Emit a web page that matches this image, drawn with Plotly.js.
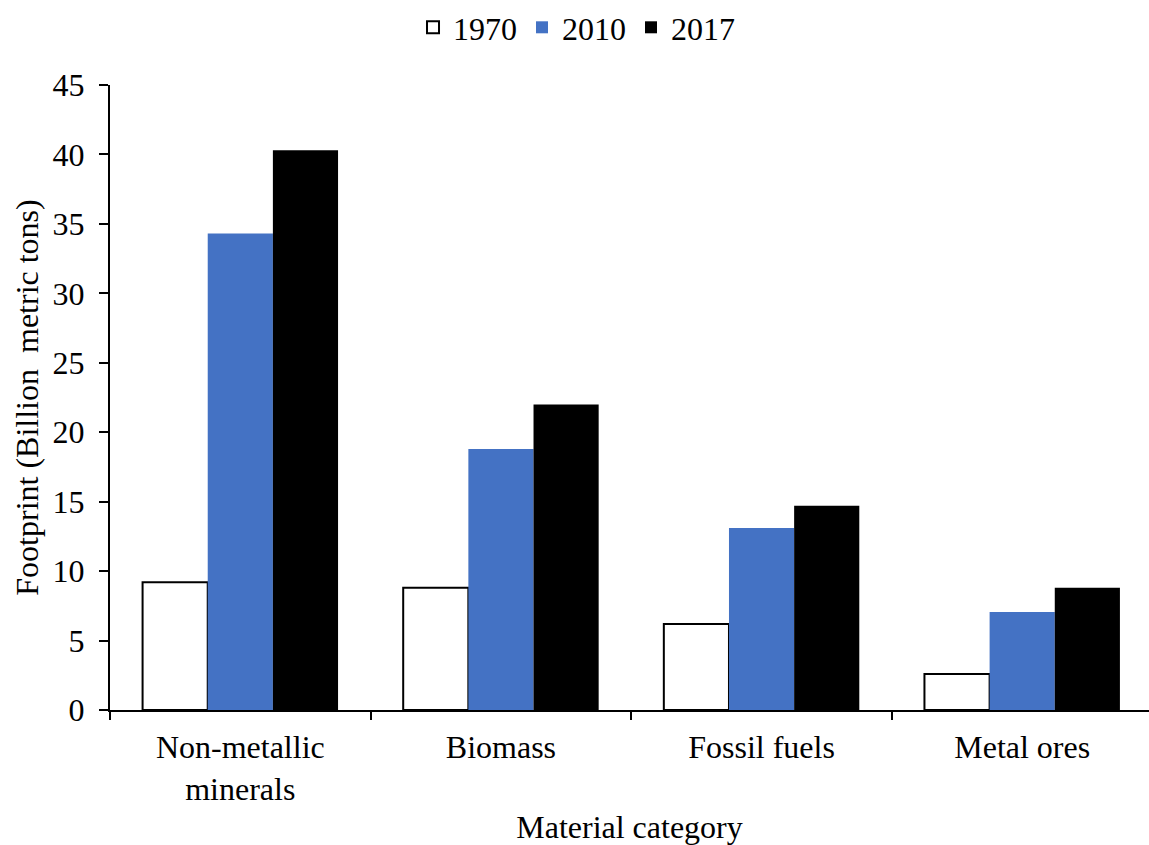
<!DOCTYPE html>
<html>
<head>
<meta charset="utf-8">
<script src="https://cdn.plot.ly/plotly-3.0.1.min.js"></script>
<style>html,body{margin:0;padding:0;background:#fff;}#chart{width:1149px;height:845px;}</style>
</head>
<body>
<div id="chart"></div>
<script>
const categories = ["Non-metallic<br>minerals", "Biomass", "Fossil fuels", "Metal ores"];
const seriesNames = ["1970", "2010", "2017"];
const values1970 = [9.2, 8.8, 6.2, 2.6];
const values2010 = [34.3, 18.8, 13.1, 7.05];
const values2017 = [40.3, 22.0, 14.7, 8.8];
const yTickVals = [0, 5, 10, 15, 20, 25, 30, 35, 40, 45];

const fam = "Liberation Serif, Times New Roman, serif";
const font = {family: fam, color: "#000", size: 32};

const traces = [
  {type: "bar", name: seriesNames[0], x: categories, y: values1970,
   marker: {color: "#ffffff", line: {color: "#000", width: 2}}},
  {type: "bar", name: seriesNames[1], x: categories, y: values2010,
   marker: {color: "#4472C4", line: {color: "#4472C4", width: 0}}},
  {type: "bar", name: seriesNames[2], x: categories, y: values2017,
   marker: {color: "#000000", line: {color: "#000", width: 0}}}
];

const xMax = 3.5 - 3.5 / 260.6;

const layout = {
  width: 1149, height: 845,
  margin: {l: 110, r: 0, t: 85, b: 135},
  paper_bgcolor: "#fff", plot_bgcolor: "#fff",
  font: font,
  barmode: "group", bargap: 0.25, bargroupgap: 0,
  showlegend: true,
  legend: {orientation: "h", x: 0.449, xref: "paper", xanchor: "center", y: 1.0, yref: "container", yanchor: "top",
           font: {family: fam, size: 32, color: "#000"}, itemwidth: 30, tracegroupgap: 0,
           bgcolor: "rgba(0,0,0,0)"},
  xaxis: {
    type: "category", range: [-0.5, xMax],
    showline: true, linecolor: "#000", linewidth: 2,
    ticks: "outside", ticklen: 8, tickwidth: 2, tickcolor: "#000", tickson: "boundaries",
    ticklabelstandoff: 8,
    showgrid: false, zeroline: false,
    tickfont: {family: fam, size: 32, color: "#000"},
    title: {text: "Material category", font: {family: fam, size: 32, color: "#000"}, standoff: 20}
  },
  xaxis2: {
    overlaying: "x", anchor: "y", side: "bottom", type: "linear", range: [-0.5, xMax],
    showline: false, ticks: "inside", ticklen: 7, tickwidth: 2, tickcolor: "#000",
    tickvals: [-0.5, 0.5, 1.5, 2.5, 3.5], showticklabels: false, showgrid: false, zeroline: false
  },
  yaxis: {
    range: [0, 45], tickvals: yTickVals, ticktext: yTickVals.map(String),
    showline: true, linecolor: "#000", linewidth: 2,
    ticks: "outside", ticklen: 9, tickwidth: 2, tickcolor: "#000",
    ticklabelstandoff: 8,
    showgrid: false, zeroline: false,
    tickfont: {family: fam, size: 32, color: "#000"},
    title: {text: "Footprint (Billion  metric tons)", font: {family: fam, size: 32, color: "#000"}, standoff: 4}
  }
};

Plotly.newPlot("chart", traces, layout, {staticPlot: true, displayModeBar: false});
</script>
</body>
</html>
